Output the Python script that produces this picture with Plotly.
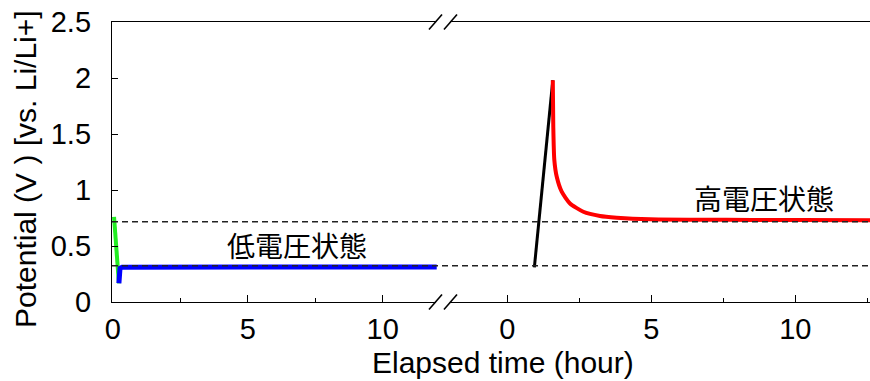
import plotly.graph_objects as go

# ---- data (hours, volts) ----
green_t = [0.05, 0.23]
green_v = [0.76, 0.167]

blue_t = [0.23, 0.27, 0.35, 1.0, 3.0, 5.0, 7.0, 9.0, 11.0, 12.0]
blue_v = [0.167, 0.30, 0.31, 0.312, 0.313, 0.313, 0.313, 0.313, 0.313, 0.313]

black_t = [0.94, 1.58]
black_v = [0.31, 1.98]

red_t = [1.58, 1.597, 1.632, 1.715, 1.889, 2.177, 2.639, 3.219, 3.799, 4.955, 6.7, 8.5, 10.2, 12.6]
red_v = [1.98, 1.565, 1.27, 1.12, 0.985, 0.88, 0.806, 0.768, 0.753, 0.738, 0.735, 0.733, 0.732, 0.731]

low_ref = 0.324
high_ref = 0.717

y_ticks = [0, 0.5, 1, 1.5, 2, 2.5]
y_tick_text = ["0", "0.5", "1", "1.5", "2", "2.5"]
x_ticks = [0, 5, 10]

label_low = "低電圧状態"
label_high = "高電圧状態"
x_title = "Elapsed time (hour)"
y_title = "Potential (V ) [vs. Li/Li+]"

# ---- layout geometry ----
W, H = 870, 381
L, R, T, B = 112, 0, 22, 79
PW, PH = W - L - R, H - T - B
BRK = 444


def px(x):
    return (x - L) / PW


def py(y):
    return (H - B - y) / PH


FONT = "Arial, Liberation Sans, Noto Sans CJK JP, sans-serif"
CJK = "Noto Sans CJK JP, Noto Sans CJK SC, sans-serif"

fig = go.Figure()
fig.add_trace(go.Scatter(x=green_t, y=green_v, mode="lines", xaxis="x", yaxis="y",
                         line=dict(color="#22ee22", width=4), showlegend=False))
fig.add_trace(go.Scatter(x=blue_t, y=blue_v, mode="lines", xaxis="x", yaxis="y",
                         line=dict(color="#0000ff", width=5), showlegend=False))
fig.add_trace(go.Scatter(x=black_t, y=black_v, mode="lines", xaxis="x2", yaxis="y",
                         line=dict(color="#000000", width=3), showlegend=False))
fig.add_trace(go.Scatter(x=red_t, y=red_v, mode="lines", xaxis="x2", yaxis="y",
                         line=dict(color="#ff0000", width=4, shape="spline", smoothing=0.6),
                         showlegend=False))

axis_common = dict(showline=True, linecolor="black", linewidth=1.3, mirror=True,
                   showgrid=False, zeroline=False, ticks="inside", ticklen=7,
                   tickcolor="black", tickwidth=1.2, tickvals=x_ticks,
                   tickfont=dict(family=FONT, size=29, color="black"),
                   ticklabelstandoff=1)

fig.update_layout(
    width=W, height=H,
    margin=dict(l=L, r=R, t=T, b=B),
    plot_bgcolor="white", paper_bgcolor="white",
    xaxis=dict(domain=[0, px(BRK)], range=[-0.026, 12.27], anchor="y",
               minor=dict(tickvals=[2.5, 7.5], ticks="inside", ticklen=4, tickcolor="black"),
               **axis_common),
    xaxis2=dict(domain=[px(BRK), 1], range=[-2.198, 12.594], anchor="y",
                minor=dict(tickvals=[2.5, 7.5, 12.5], ticks="inside", ticklen=4, tickcolor="black"),
                **axis_common),
    yaxis=dict(range=[0, 2.5], anchor="x", showline=True, linecolor="black", linewidth=1.3,
               showgrid=False, zeroline=False, ticks="inside", ticklen=6, tickcolor="black",
               tickvals=y_ticks, ticktext=y_tick_text,
               tickfont=dict(family=FONT, size=29, color="black"),
               ticklabelstandoff=14),
)

shapes = []
for v in (low_ref, high_ref):
    shapes.append(dict(type="line", xref="paper", yref="y", x0=0, x1=1, y0=v, y1=v,
                       line=dict(color="#222222", width=1.4, dash="6px,4px"), layer="above"))
# axis break marks
for yy in (T, H - B):
    shapes.append(dict(type="line", xref="paper", yref="paper",
                       x0=px(436), x1=px(450), y0=py(yy), y1=py(yy),
                       line=dict(color="white", width=3), layer="above"))
    for x0 in (429, 444):
        shapes.append(dict(type="line", xref="paper", yref="paper",
                           x0=px(x0), x1=px(x0 + 13), y0=py(yy + 7.5), y1=py(yy - 7.5),
                           line=dict(color="black", width=1.6), layer="above"))

annotations = [
    dict(text=label_low, xref="paper", yref="paper", x=px(297), y=py(245),
         showarrow=False, font=dict(family=CJK, size=28, color="black"),
         xanchor="center", yanchor="middle"),
    dict(text=label_high, xref="paper", yref="paper", x=px(764), y=py(198),
         showarrow=False, font=dict(family=CJK, size=28, color="black"),
         xanchor="center", yanchor="middle"),
    dict(text=x_title, xref="paper", yref="paper", x=px(503), y=py(362),
         showarrow=False, font=dict(family=FONT, size=30, color="black"),
         xanchor="center", yanchor="middle"),
    dict(text=y_title, xref="paper", yref="paper", x=px(25), y=py(169),
         showarrow=False, textangle=-90, font=dict(family=FONT, size=30, color="black"),
         xanchor="center", yanchor="middle"),
]
fig.update_layout(shapes=shapes, annotations=annotations)

fig.write_html("out.html", config={"displayModeBar": False},
               post_script="document.body.style.margin='0';document.body.style.overflow='hidden';")
